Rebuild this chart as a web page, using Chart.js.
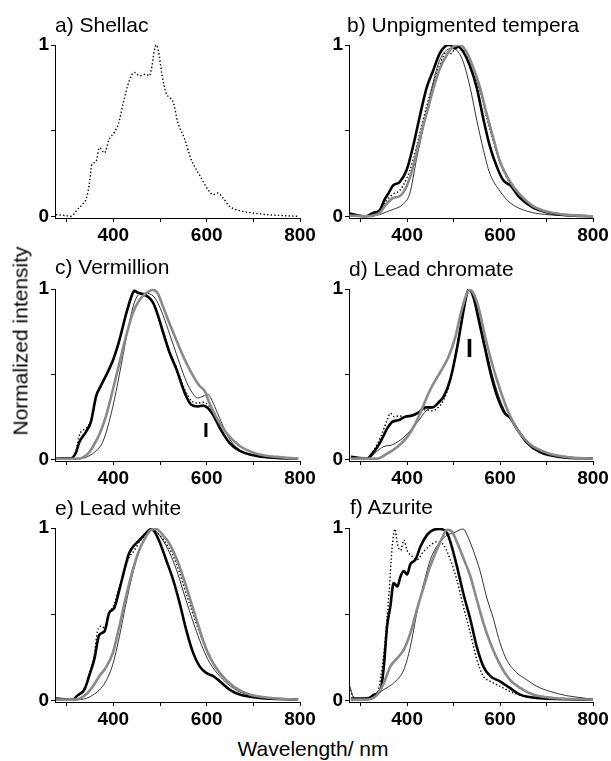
<!DOCTYPE html>
<html>
<head>
  <meta charset="UTF-8">
  <title>Normalized emission spectra</title>
  <script src="https://cdn.jsdelivr.net/npm/chart.js@4.4.0/dist/chart.umd.min.js"></script>
  <style>
    body { margin: 0; background: #fff; }
    #wrap { position: relative; width: 611px; height: 761px; font-family: 'Liberation Sans', Arial, sans-serif; }
    canvas { position: absolute; }
    .txt { position: absolute; white-space: nowrap; color: #000; font-size: 21px; line-height: 1; z-index: 2; }
    .mark { position: absolute; font-weight: bold; color: #000; line-height: 1; z-index: 2; }
  </style>
</head>
<body>
<div id="wrap">
  <canvas id="pa" width="293" height="217" style="left:25px; top:31px;"></canvas>
  <canvas id="pb" width="293" height="217" style="left:318px; top:31px;"></canvas>
  <canvas id="pc" width="293" height="216" style="left:25px; top:275px;"></canvas>
  <canvas id="pd" width="293" height="216" style="left:318px; top:275px;"></canvas>
  <canvas id="pe" width="293" height="218" style="left:25px; top:514px;"></canvas>
  <canvas id="pf" width="293" height="218" style="left:318px; top:514px;"></canvas>

  <div class="txt" style="left:55px; top:14px;">a) Shellac</div>
  <div class="txt" style="left:347px; top:14px;">b) Unpigmented tempera</div>
  <div class="txt" style="left:55px; top:256px;">c) Vermillion</div>
  <div class="txt" style="left:349px; top:258px;">d) Lead chromate</div>
  <div class="txt" style="left:55px; top:497px;">e) Lead white</div>
  <div class="txt" style="left:350px; top:496px;">f) Azurite</div>

  <div class="mark" style="left:203px; top:419px; font-size:21px;">I</div>
  <div class="mark" style="left:466px; top:336px; font-size:25px;">I</div>

  <div class="txt" style="left:20px; top:341px; transform: translate(-50%, -50%) rotate(-90deg);">Normalized intensity</div>
  <div class="txt" style="left:313px; top:738px; transform: translateX(-50%);">Wavelength/ nm</div>
</div>
<script>
  // [wavelength nm, normalized intensity]
  var shellacDotted = [[277,0.01],[298,0.004],[309,0],[323,0.04],[334,0.07],[343,0.11],[348,0.18],[354,0.30],[363,0.32],[370,0.40],[381,0.37],[391,0.45],[402,0.49],[411,0.54],[421,0.66],[434,0.79],[445,0.84],[456,0.82],[470,0.83],[477,0.82],[483,0.88],[488,0.97],[492,1.0],[497,0.96],[504,0.83],[513,0.72],[522,0.69],[529,0.66],[538,0.55],[553,0.45],[567,0.33],[585,0.24],[603,0.155],[614,0.126],[624,0.136],[635,0.107],[649,0.058],[671,0.033],[700,0.019],[728,0.01],[764,0.004],[796,0]];

  var temperaThick = [[276,0.016],[312,0],[327,0.02],[341,0.035],[352,0.10],[359,0.13],[370,0.18],[384,0.20],[399,0.27],[413,0.41],[427,0.58],[442,0.75],[456,0.85],[470,0.95],[481,0.99],[492,1.0],[503,0.98],[510,0.99],[521,0.96],[535,0.88],[550,0.75],[564,0.57],[578,0.41],[593,0.29],[607,0.21],[622,0.18],[643,0.107],[672,0.049],[708,0.019],[744,0.006],[800,0]];
  var temperaDotted = [[276,0.01],[312,0],[341,0.03],[355,0.09],[370,0.13],[384,0.15],[399,0.22],[413,0.33],[427,0.48],[442,0.64],[456,0.77],[470,0.88],[485,0.96],[495,0.95],[505,0.99],[514,0.98],[528,0.95],[542,0.86],[557,0.73],[571,0.58],[586,0.43],[600,0.31],[622,0.19],[643,0.12],[672,0.055],[708,0.02],[744,0.007],[800,0]];
  var temperaGrey = [[276,0.005],[312,0],[341,0.02],[355,0.07],[370,0.107],[384,0.117],[399,0.175],[413,0.29],[427,0.45],[442,0.60],[456,0.74],[470,0.86],[485,0.94],[499,0.99],[514,1.0],[528,0.96],[542,0.87],[557,0.75],[571,0.60],[586,0.45],[600,0.32],[622,0.20],[643,0.126],[672,0.058],[708,0.023],[744,0.008],[800,0]];
  var temperaThin = [[312,0],[341,0.01],[355,0.025],[370,0.04],[391,0.07],[406,0.135],[420,0.33],[435,0.52],[456,0.78],[470,0.91],[485,0.97],[499,0.98],[510,0.96],[521,0.90],[535,0.76],[550,0.56],[564,0.39],[578,0.25],[600,0.146],[622,0.078],[658,0.03],[708,0.008],[800,0]];

  var vermThick = [[277,0.006],[309,0.006],[320,0.04],[327,0.10],[341,0.16],[352,0.22],[363,0.37],[373,0.43],[384,0.49],[399,0.58],[413,0.70],[427,0.85],[438,0.95],[445,0.99],[452,0.98],[463,0.97],[474,0.955],[485,0.92],[495,0.85],[506,0.75],[520,0.63],[535,0.53],[553,0.39],[567,0.32],[581,0.31],[592,0.315],[603,0.30],[614,0.26],[628,0.185],[649,0.097],[671,0.049],[707,0.02],[750,0.008],[796,0.004]];
  var vermDotted = [[277,0.006],[309,0.006],[320,0.05],[327,0.14],[334,0.17],[341,0.18],[352,0.23],[363,0.36],[373,0.43],[384,0.49],[399,0.58],[413,0.70],[427,0.85],[438,0.94],[445,0.98],[452,0.975],[463,0.965],[474,0.95],[485,0.92],[495,0.86],[506,0.76],[520,0.64],[535,0.54],[553,0.41],[567,0.345],[581,0.33],[592,0.335],[603,0.32],[614,0.275],[628,0.19],[649,0.10],[671,0.05],[707,0.02],[750,0.008],[796,0.004]];
  var vermGrey = [[277,0.004],[320,0.003],[334,0.01],[348,0.04],[359,0.088],[370,0.146],[384,0.25],[399,0.41],[413,0.565],[427,0.72],[442,0.86],[456,0.935],[470,0.975],[485,0.995],[495,0.975],[506,0.9],[520,0.80],[535,0.70],[553,0.585],[571,0.49],[585,0.43],[596,0.40],[606,0.33],[621,0.245],[642,0.156],[671,0.078],[707,0.033],[750,0.014],[796,0.004]];
  var vermThin = [[320,0.002],[334,0.005],[348,0.02],[363,0.05],[377,0.10],[391,0.22],[406,0.40],[420,0.60],[434,0.80],[445,0.92],[456,0.97],[470,0.975],[485,0.96],[495,0.92],[506,0.85],[520,0.74],[535,0.62],[553,0.48],[567,0.40],[581,0.36],[592,0.37],[603,0.38],[614,0.33],[628,0.24],[649,0.12],[671,0.055],[707,0.02],[750,0.008],[796,0.003]];

  var chromThick = [[279,0.014],[314,0.004],[325,0.033],[336,0.072],[346,0.12],[357,0.18],[368,0.22],[382,0.23],[396,0.25],[411,0.257],[425,0.276],[439,0.305],[454,0.305],[468,0.335],[479,0.37],[493,0.47],[507,0.646],[518,0.82],[526,0.94],[532,0.996],[537,0.99],[544,0.94],[554,0.82],[568,0.646],[582,0.48],[596,0.354],[611,0.267],[621,0.247],[636,0.18],[657,0.10],[686,0.043],[729,0.014],[800,0.004]];
  var chromDotted = [[279,0.01],[314,0.003],[325,0.04],[336,0.09],[346,0.15],[357,0.23],[364,0.27],[372,0.25],[382,0.255],[396,0.25],[411,0.26],[425,0.275],[439,0.29],[454,0.285],[465,0.30],[479,0.35],[493,0.46],[507,0.65],[518,0.83],[526,0.95],[532,1.0],[537,0.99],[544,0.95],[554,0.83],[568,0.65],[582,0.49],[596,0.36],[611,0.27],[621,0.25],[636,0.18],[657,0.10],[686,0.043],[729,0.014],[800,0.004]];
  var chromGrey = [[279,0.004],[336,0.004],[357,0.033],[379,0.072],[400,0.13],[418,0.21],[432,0.296],[450,0.41],[471,0.51],[489,0.60],[504,0.72],[514,0.84],[525,0.947],[534,0.996],[543,0.975],[554,0.89],[568,0.72],[582,0.57],[600,0.41],[618,0.276],[636,0.18],[664,0.09],[700,0.039],[743,0.014],[800,0.004]];
  var chromThin = [[314,0.002],[325,0.02],[336,0.05],[350,0.075],[368,0.085],[393,0.13],[420,0.21],[443,0.29],[460,0.31],[475,0.35],[493,0.47],[507,0.66],[518,0.83],[526,0.95],[533,1.0],[540,0.98],[548,0.92],[558,0.80],[572,0.62],[586,0.47],[600,0.35],[615,0.26],[630,0.21],[646,0.15],[665,0.09],[690,0.045],[730,0.016],[800,0.004]];

  var whiteThick = [[277,0.01],[313,0.004],[323,0.027],[338,0.062],[348,0.14],[359,0.236],[370,0.38],[381,0.40],[391,0.507],[402,0.536],[413,0.642],[424,0.76],[434,0.855],[445,0.90],[456,0.93],[470,0.97],[481,0.994],[488,0.98],[499,0.92],[513,0.816],[528,0.70],[542,0.565],[556,0.41],[571,0.275],[585,0.197],[599,0.159],[614,0.14],[628,0.11],[649,0.062],[671,0.033],[714,0.0135],[796,0.004]];
  var whiteDotted = [[277,0.01],[313,0.004],[323,0.03],[338,0.07],[348,0.15],[359,0.26],[366,0.40],[374,0.43],[381,0.42],[391,0.50],[402,0.56],[413,0.66],[424,0.76],[434,0.83],[445,0.87],[456,0.92],[470,0.96],[483,1.0],[490,0.98],[499,0.96],[513,0.91],[528,0.84],[542,0.74],[556,0.62],[571,0.50],[585,0.39],[599,0.30],[614,0.22],[628,0.16],[649,0.10],[671,0.055],[714,0.02],[796,0.005]];
  var whiteGrey = [[277,0.004],[320,0.004],[341,0.033],[356,0.08],[370,0.14],[384,0.19],[399,0.275],[413,0.43],[427,0.60],[442,0.76],[456,0.875],[470,0.95],[481,0.99],[492,0.994],[506,0.96],[520,0.91],[535,0.826],[549,0.72],[563,0.60],[578,0.47],[592,0.35],[606,0.255],[628,0.159],[657,0.081],[692,0.033],[743,0.012],[796,0.004]];
  var whiteThin = [[320,0.002],[341,0.01],[356,0.03],[370,0.06],[384,0.11],[399,0.21],[413,0.37],[427,0.56],[442,0.74],[456,0.87],[470,0.95],[483,0.995],[492,0.98],[506,0.93],[520,0.86],[535,0.76],[549,0.64],[563,0.52],[578,0.40],[592,0.30],[606,0.22],[628,0.14],[657,0.07],[692,0.028],[743,0.01],[796,0.003]];

  var azurThick = [[279,0.01],[314,0.008],[329,0.033],[343,0.062],[350,0.197],[357,0.43],[364,0.545],[371,0.68],[379,0.66],[386,0.72],[393,0.75],[400,0.73],[407,0.79],[418,0.816],[429,0.894],[443,0.96],[457,0.99],[471,0.994],[486,0.97],[496,0.894],[507,0.78],[521,0.62],[536,0.47],[550,0.31],[564,0.197],[579,0.14],[600,0.11],[621,0.072],[643,0.033],[686,0.012],[800,0.004]];
  var azurDotted = [[277,0.06],[286,0.014],[314,0.004],[336,0.043],[350,0.275],[361,0.62],[368,0.894],[374,0.994],[379,0.91],[386,0.87],[393,0.93],[400,0.87],[411,0.835],[421,0.816],[436,0.865],[450,0.90],[464,0.92],[479,0.90],[493,0.816],[507,0.70],[521,0.545],[536,0.39],[550,0.236],[564,0.14],[579,0.11],[600,0.081],[629,0.043],[671,0.014],[800,0.004]];
  var azurGrey = [[279,0.004],[314,0.004],[336,0.033],[350,0.10],[364,0.197],[379,0.245],[393,0.294],[407,0.39],[421,0.526],[436,0.66],[450,0.78],[464,0.874],[475,0.94],[486,0.99],[496,0.98],[507,0.92],[521,0.826],[536,0.72],[550,0.584],[564,0.45],[579,0.333],[600,0.207],[621,0.12],[643,0.072],[671,0.033],[714,0.0135],[800,0.004]];
  var azurThin = [[277,0.08],[286,0.014],[329,0.023],[350,0.062],[371,0.10],[393,0.178],[407,0.31],[421,0.507],[436,0.68],[450,0.816],[464,0.894],[475,0.93],[486,0.96],[500,0.97],[514,0.99],[521,0.994],[529,0.96],[543,0.865],[557,0.75],[571,0.60],[586,0.47],[600,0.333],[614,0.236],[636,0.16],[657,0.12],[679,0.081],[707,0.052],[743,0.027],[779,0.0135],[800,0.004]];

  var xLabels = [400, 600, 800];
  var yLabels = [0, 1];

  function toPts(arr) {
    return arr.map(function(p) { return {x: p[0], y: p[1]}; });
  }

  function line(arr, kind) {
    var ds = { data: toPts(arr), pointRadius: 0, fill: false, cubicInterpolationMode: 'monotone', borderColor: '#000', borderWidth: 1 };
    if (kind == 'thick') { ds.borderWidth = 2.6; }
    if (kind == 'grey') { ds.borderColor = '#8a8a8a'; ds.borderWidth = 2.6; }
    if (kind == 'dot') { ds.borderWidth = 1.4; ds.borderDash = [1.4, 2.2]; }
    if (kind == 'thin') { ds.borderWidth = 0.8; }
    return ds;
  }

  var tickFont = { family: "'Liberation Sans', Arial, sans-serif", size: 19, weight: 'bold' };

  function makePanel(id, datasets, yW) {
    new Chart(document.getElementById(id), {
      type: 'line',
      data: { datasets: datasets },
      options: {
        responsive: false,
        animation: false,
        layout: { padding: { top: 14, right: 18, left: 0, bottom: 0 } },
        plugins: { legend: { display: false }, tooltip: { enabled: false } },
        scales: {
          x: {
            type: 'linear', min: 275, max: 800,
            afterFit: function(s) { s.height = 30; },
            border: { display: true, color: '#000', width: 1 },
            grid: { drawOnChartArea: false, drawTicks: true, tickLength: 4, color: '#000' },
            ticks: {
              stepSize: 100, includeBounds: false, autoSkip: false, maxRotation: 0, padding: 2,
              color: '#000', font: tickFont,
              callback: function(v) { return xLabels.indexOf(v) >= 0 ? String(v) : ''; }
            }
          },
          y: {
            min: -0.01, max: 1,
            afterFit: function(s) { s.width = yW; },
            border: { display: true, color: '#000', width: 1 },
            grid: { drawOnChartArea: false, drawTicks: true, tickLength: 4, color: '#000' },
            ticks: {
              stepSize: 0.5, includeBounds: false, autoSkip: false, padding: 2,
              color: '#000', font: tickFont,
              callback: function(v) { return yLabels.indexOf(v) >= 0 ? String(v) : ''; }
            }
          }
        }
      }
    });
  }

  makePanel('pa', [line(shellacDotted, 'dot')], 30);
  makePanel('pb', [line(temperaGrey, 'grey'), line(temperaThin, 'thin'), line(temperaDotted, 'dot'), line(temperaThick, 'thick')], 31);
  makePanel('pc', [line(vermGrey, 'grey'), line(vermThin, 'thin'), line(vermDotted, 'dot'), line(vermThick, 'thick')], 30);
  makePanel('pd', [line(chromGrey, 'grey'), line(chromThin, 'thin'), line(chromDotted, 'dot'), line(chromThick, 'thick')], 31);
  makePanel('pe', [line(whiteGrey, 'grey'), line(whiteThin, 'thin'), line(whiteDotted, 'dot'), line(whiteThick, 'thick')], 30);
  makePanel('pf', [line(azurGrey, 'grey'), line(azurThin, 'thin'), line(azurDotted, 'dot'), line(azurThick, 'thick')], 31);
</script>
</body>
</html>
